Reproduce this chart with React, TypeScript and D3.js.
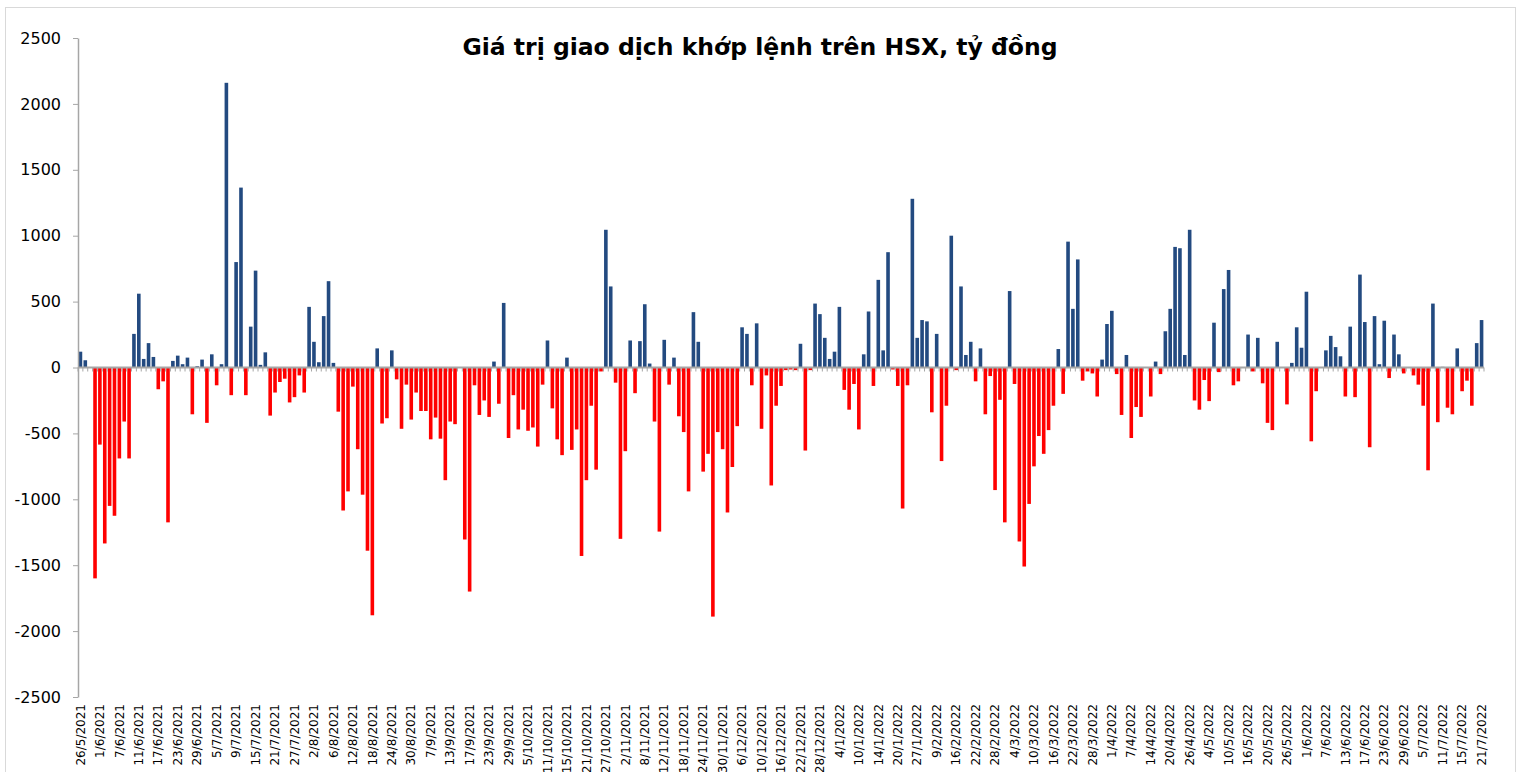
import React, { useEffect, useRef } from 'react';
import * as d3 from 'd3';

// gia tri mua/ban rong theo phien, ty dong (doc tu hinh)
const values: number[] = [
  120, 55, 0, -1600, -585, -1335, -1050, -1125, -690, -410,
  -690, 255, 560, 65, 185, 80, -165, -105, -1175, 50,
  90, 25, 75, -355, 10, 60, -420, 100, -135, 25,
  2160, -210, 800, 1365, -210, 310, 735, 20, 115, -365,
  -190, -110, -85, -265, -225, -60, -190, 460, 195, 40,
  390, 655, 35, -335, -1085, -940, -145, -620, -965, -1390,
  -1880, 145, -425, -385, 130, -90, -465, -130, -395, -190,
  -330, -330, -545, -380, -540, -855, -410, -430, 0, -1305,
  -1700, -135, -360, -250, -375, 45, -275, 490, -535, -210,
  -470, -320, -480, -455, -600, -130, 205, -310, -545, -665,
  75, -625, -470, -1430, -855, -290, -775, -30, 1045, 615,
  -115, -1300, -635, 205, -195, 200, 480, 30, -410, -1245,
  210, -130, 75, -370, -490, -940, 420, 195, -790, -655,
  -1890, -490, -620, -1100, -755, -445, 305, 255, -135, 335,
  -465, -60, -895, -290, -140, -20, -15, -20, 180, -630,
  -20, 485, 405, 225, 65, 120, 460, -170, -320, -125,
  -470, 100, 425, -140, 665, 130, 875, -15, -140, -1070,
  -135, 1280, 225, 360, 350, -340, 255, -710, -290, 1000,
  -20, 615, 95, 195, -105, 145, -355, -65, -930, -245,
  -1175, 580, -125, -1320, -1510, -1035, -750, -520, -655, -475,
  -290, 140, -200, 955, 445, 820, -100, -30, -45, -220,
  60, 330, 430, -50, -360, 95, -535, -300, -375, 0,
  -220, 45, -50, 275, 445, 915, 905, 95, 1045, -250,
  -320, -95, -255, 340, -35, 595, 740, -135, -105, 0,
  250, -30, 225, -120, -420, -475, 195, 0, -280, 35,
  305, 150, 575, -560, -180, 0, 130, 240, 155, 85,
  -220, 310, -225, 705, 345, -605, 390, 25, 355, -80,
  250, 100, -45, 0, -60, -130, -290, -780, 485, -415,
  5, -305, -355, 145, -180, -100, -290, 185, 360
];

// nhan truc x, cu 4 phien mot nhan
const tickLabels: string[] = [
  '26/5/2021', '1/6/2021', '7/6/2021', '11/6/2021', '17/6/2021', '23/6/2021', '29/6/2021',
  '5/7/2021', '9/7/2021', '15/7/2021', '21/7/2021', '27/7/2021',
  '2/8/2021', '6/8/2021', '12/8/2021', '18/8/2021', '24/8/2021', '30/8/2021',
  '7/9/2021', '13/9/2021', '17/9/2021', '23/9/2021', '29/9/2021',
  '5/10/2021', '11/10/2021', '15/10/2021', '21/10/2021', '27/10/2021',
  '2/11/2021', '8/11/2021', '12/11/2021', '18/11/2021', '24/11/2021', '30/11/2021',
  '6/12/2021', '10/12/2021', '16/12/2021', '22/12/2021', '28/12/2021',
  '4/1/2022', '10/1/2022', '14/1/2022', '20/1/2022', '27/1/2022',
  '9/2/2022', '16/2/2022', '22/2/2022', '28/2/2022',
  '4/3/2022', '10/3/2022', '16/3/2022', '22/3/2022', '28/3/2022',
  '1/4/2022', '7/4/2022', '14/4/2022', '20/4/2022', '26/4/2022',
  '4/5/2022', '10/5/2022', '16/5/2022', '20/5/2022', '26/5/2022',
  '1/6/2022', '7/6/2022', '13/6/2022', '17/6/2022', '23/6/2022', '29/6/2022',
  '5/7/2022', '11/7/2022', '15/7/2022', '21/7/2022'
];

const yTicks: number[] = [-2500, -2000, -1500, -1000, -500, 0, 500, 1000, 1500, 2000, 2500];

const title = 'Giá trị giao dịch khớp lệnh trên HSX, tỷ đồng';

export default function App() {
  const ref = useRef<SVGSVGElement>(null);

  useEffect(() => {
    const width = 1521;
    const height = 772;
    const left = 78, right = 1484, top = 38, bottom = 697;
    const font = '"DejaVu Sans", Verdana, sans-serif';

    const svg = d3.select(ref.current);
    svg.selectAll('*').remove();
    svg.attr('width', width).attr('height', height);

    // khung ngoai
    svg.append('rect')
      .attr('x', 5.5).attr('y', 7.5)
      .attr('width', 1510).attr('height', 775)
      .attr('fill', 'white')
      .attr('stroke', '#d9d9d9');

    const xScale = d3.scaleBand<number>()
      .domain(d3.range(values.length))
      .range([left, right])
      .paddingInner(0.26)
      .paddingOuter(0.13);

    const yScale = d3.scaleLinear().domain([-2500, 2500]).range([bottom, top]);

    // cot
    svg.append('g')
      .selectAll('rect')
      .data(values)
      .join('rect')
      .attr('x', (d, i) => xScale(i) as number)
      .attr('width', xScale.bandwidth())
      .attr('y', d => yScale(Math.max(0, d)))
      .attr('height', d => Math.abs(yScale(d) - yScale(0)))
      .attr('fill', d => (d >= 0 ? '#234a80' : '#ff0000'));

    // truc y
    const yAxis = d3.axisLeft(yScale)
      .tickValues(yTicks)
      .tickFormat(d => String(d))
      .tickSize(5)
      .tickSizeOuter(0)
      .tickPadding(12);
    const gy = svg.append('g').attr('transform', `translate(${left}, 0)`).call(yAxis);
    gy.select('.domain').attr('stroke', '#a6a6a6').attr('stroke-width', 1.5);
    gy.selectAll('.tick line').attr('stroke', '#a6a6a6');
    gy.selectAll('.tick text')
      .attr('font-family', font)
      .attr('font-size', 16)
      .attr('fill', '#000');

    // duong 0 va vach chia
    const step = xScale.step();
    svg.append('g')
      .selectAll('line')
      .data(d3.range(values.length + 1))
      .join('line')
      .attr('x1', k => left + k * step)
      .attr('x2', k => left + k * step)
      .attr('y1', yScale(0))
      .attr('y2', yScale(0) + 4)
      .attr('stroke', '#a6a6a6');

    svg.append('line')
      .attr('x1', left).attr('x2', right)
      .attr('y1', yScale(0)).attr('y2', yScale(0))
      .attr('stroke', '#a6a6a6')
      .attr('stroke-width', 2);

    // nhan truc x
    svg.append('g')
      .selectAll('text')
      .data(tickLabels)
      .join('text')
      .attr('transform', (d, i) => {
        const x = (xScale(i * 4) as number) + xScale.bandwidth() / 2;
        return `translate(${x}, 704) rotate(-90)`;
      })
      .attr('text-anchor', 'end')
      .attr('dy', '0.35em')
      .attr('font-family', font)
      .attr('font-size', 12)
      .attr('fill', '#000')
      .text(d => d);

    // tieu de
    svg.append('text')
      .attr('x', 760)
      .attr('y', 55)
      .attr('text-anchor', 'middle')
      .attr('font-family', font)
      .attr('font-weight', 'bold')
      .attr('font-size', 23.5)
      .attr('fill', '#000')
      .text(title);
  }, []);

  return (
    <div>
      <style>{'body{margin:0}'}</style>
      <svg ref={ref} style={{ display: 'block' }} />
    </div>
  );
}
